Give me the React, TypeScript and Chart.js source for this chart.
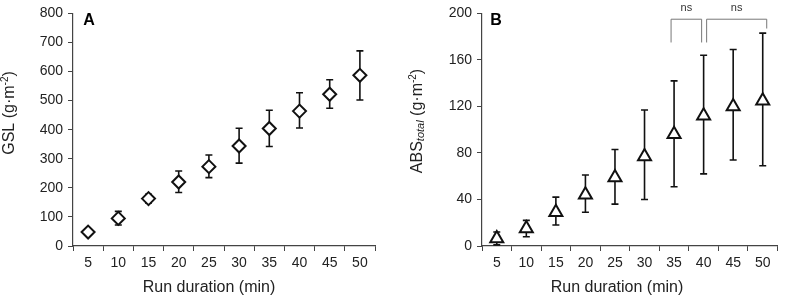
import React, { useEffect, useRef } from 'react';
import { Chart, registerables } from 'chart.js';

Chart.register(...registerables);

// ---- data ----
const categories = ['5', '10', '15', '20', '25', '30', '35', '40', '45', '50'];

const gslMean = [48, 95, 163, 220, 273, 344, 404, 464, 522, 587];
const gslLow = [38, 72, 148, 184, 235, 285, 342, 406, 474, 502];
const gslHigh = [58, 119, 178, 258, 313, 405, 467, 527, 572, 671];

const absMean = [6.5, 15, 29, 44, 59, 77, 96, 112, 120, 125];
const absLow = [1, 8, 18, 29, 36, 40, 51, 62, 74, 69];
const absHigh = [12, 22, 42, 61, 83, 117, 142, 164, 169, 183];

const gslAxis = { min: 0, max: 800, step: 100 };
const absAxis = { min: 0, max: 200, step: 40 };

const brackets = [
  { from: '35', to: '40', top: 195, legFrom: 175, legTo: 175, label: 'ns' },
  { from: '40', to: '50', top: 195, legFrom: 175, legTo: 187, label: 'ns' },
];

// ---- styles ----
const FONT = '"Liberation Sans", Arial, sans-serif';
const TEXT = '#222';
const AXIS = '#444';
const MARK = '#111';

type Seg = { t: string; size: number; italic?: boolean; dy?: number };

function drawRich(ctx: CanvasRenderingContext2D, segs: Seg[], cx: number, cy: number, rotate: boolean) {
  ctx.save();
  ctx.translate(cx, cy);
  if (rotate) ctx.rotate(-Math.PI / 2);
  ctx.fillStyle = TEXT;
  ctx.textBaseline = 'middle';
  ctx.textAlign = 'left';
  let total = 0;
  const widths = segs.map((s) => {
    ctx.font = `${s.italic ? 'italic ' : ''}${s.size}px ${FONT}`;
    const w = ctx.measureText(s.t).width;
    total += w;
    return w;
  });
  let x = -total / 2;
  segs.forEach((s, i) => {
    ctx.font = `${s.italic ? 'italic ' : ''}${s.size}px ${FONT}`;
    ctx.fillText(s.t, x, s.dy || 0);
    x += widths[i];
  });
  ctx.restore();
}

function errorBarPlugin(low: number[], high: number[]) {
  return {
    id: 'errorBars',
    beforeDatasetsDraw(chart: any) {
      const { ctx } = chart;
      const xs = chart.scales.x;
      const ys = chart.scales.y;
      ctx.save();
      ctx.strokeStyle = MARK;
      ctx.lineWidth = 1.6;
      low.forEach((lo, i) => {
        const px = xs.getPixelForValue(i);
        const yl = ys.getPixelForValue(lo);
        const yh = ys.getPixelForValue(high[i]);
        ctx.beginPath();
        ctx.moveTo(px, yl);
        ctx.lineTo(px, yh);
        ctx.moveTo(px - 3.5, yl);
        ctx.lineTo(px + 3.5, yl);
        ctx.moveTo(px - 3.5, yh);
        ctx.lineTo(px + 3.5, yh);
        ctx.stroke();
      });
      ctx.restore();
    },
  };
}

function decorPlugin(opts: {
  letter: string;
  letterX: number;
  xTitleX: number;
  yTitle: Seg[];
  yTitleX: number;
  yTitleY: number;
  withBrackets?: boolean;
}) {
  return {
    id: 'decor',
    afterDraw(chart: any) {
      const { ctx } = chart;
      const area = chart.chartArea;
      // panel letter
      ctx.save();
      ctx.fillStyle = '#000';
      ctx.font = `bold 16px ${FONT}`;
      ctx.textAlign = 'center';
      ctx.textBaseline = 'middle';
      ctx.fillText(opts.letter, opts.letterX, 21);
      ctx.restore();
      // x title
      drawRich(ctx, [{ t: 'Run duration (min)', size: 16 }], opts.xTitleX, 288, false);
      // y title
      drawRich(ctx, opts.yTitle, opts.yTitleX, opts.yTitleY, true);
      // brackets
      if (opts.withBrackets) {
        const xs = chart.scales.x;
        const ys = chart.scales.y;
        ctx.save();
        ctx.strokeStyle = '#777';
        ctx.lineWidth = 1;
        brackets.forEach((b, bi) => {
          const x1 = xs.getPixelForValue(categories.indexOf(b.from)) + (bi === 0 ? -3 : 3);
          const x2 = xs.getPixelForValue(categories.indexOf(b.to)) + (bi === 0 ? -2 : 4);
          const yt = ys.getPixelForValue(b.top);
          const y1 = ys.getPixelForValue(b.legFrom);
          const y2 = ys.getPixelForValue(b.legTo);
          ctx.beginPath();
          ctx.moveTo(x1, y1);
          ctx.lineTo(x1, yt);
          ctx.lineTo(x2, yt);
          ctx.lineTo(x2, y2);
          ctx.stroke();
          ctx.fillStyle = '#333';
          ctx.font = `11px ${FONT}`;
          ctx.textAlign = 'center';
          ctx.textBaseline = 'middle';
          ctx.fillText(b.label, (x1 + x2) / 2, yt - 11);
        });
        ctx.restore();
      }
      void area;
    },
  };
}

function makeConfig(
  mean: number[],
  low: number[],
  high: number[],
  axis: { min: number; max: number; step: number },
  pointStyle: string,
  radius: number,
  yWidth: number,
  padRight: number,
  decor: any
): any {
  return {
    type: 'line',
    data: {
      labels: categories,
      datasets: [
        {
          data: mean,
          showLine: false,
          pointStyle,
          pointRadius: radius,
          pointBorderWidth: 2,
          pointBackgroundColor: '#fff',
          pointBorderColor: MARK,
          clip: false,
        },
      ],
    },
    options: {
      responsive: false,
      animation: false,
      layout: { padding: { top: 12, right: padRight, left: 0, bottom: 0 } },
      plugins: { legend: { display: false }, tooltip: { enabled: false } },
      scales: {
        x: {
          type: 'category',
          offset: true,
          grid: { offset: true, drawOnChartArea: false, drawTicks: true, tickLength: 5, color: AXIS },
          border: { display: true, color: AXIS, width: 1.2 },
          ticks: { color: TEXT, font: { family: FONT, size: 14 }, padding: 4, maxRotation: 0, autoSkip: false },
          afterFit: (s: any) => {
            s.height = 55;
          },
        },
        y: {
          min: axis.min,
          max: axis.max,
          grid: { drawOnChartArea: false, drawTicks: true, tickLength: 5, color: AXIS },
          border: { display: true, color: AXIS, width: 1.2 },
          ticks: { stepSize: axis.step, color: TEXT, font: { family: FONT, size: 14 }, padding: 5 },
          afterFit: (s: any) => {
            s.width = yWidth;
          },
        },
      },
    },
    plugins: [errorBarPlugin(low, high), decor],
  };
}

export default function App() {
  const refA = useRef<HTMLCanvasElement>(null);
  const refB = useRef<HTMLCanvasElement>(null);

  useEffect(() => {
    const a = new Chart(
      refA.current as HTMLCanvasElement,
      makeConfig(
        gslMean,
        gslLow,
        gslHigh,
        gslAxis,
        'rectRot',
        6.5,
        73,
        25,
        decorPlugin({
          letter: 'A',
          letterX: 89,
          xTitleX: 209,
          yTitle: [
            { t: 'GSL (g·m', size: 16 },
            { t: '-2', size: 10, dy: -5 },
            { t: ')', size: 16 },
          ],
          yTitleX: 10,
          yTitleY: 113,
        })
      )
    );
    const b = new Chart(
      refB.current as HTMLCanvasElement,
      makeConfig(
        absMean,
        absLow,
        absHigh,
        absAxis,
        'triangle',
        7.5,
        82,
        4,
        decorPlugin({
          letter: 'B',
          letterX: 96,
          xTitleX: 217,
          yTitle: [
            { t: 'ABS', size: 16 },
            { t: 'total', size: 11, italic: true, dy: 3 },
            { t: ' (g·m', size: 16 },
            { t: '-2', size: 10, dy: -5 },
            { t: ')', size: 16 },
          ],
          yTitleX: 18,
          yTitleY: 121,
          withBrackets: true,
        })
      )
    );
    return () => {
      a.destroy();
      b.destroy();
    };
  }, []);

  return (
    <div style={{ position: 'fixed', left: 0, top: 0, width: 787, height: 301, background: '#fff' }}>
      <canvas ref={refA} width={400} height={301} style={{ position: 'absolute', left: 0, top: 0, width: 400, height: 301 }} />
      <canvas ref={refB} width={387} height={301} style={{ position: 'absolute', left: 400, top: 0, width: 387, height: 301 }} />
    </div>
  );
}
